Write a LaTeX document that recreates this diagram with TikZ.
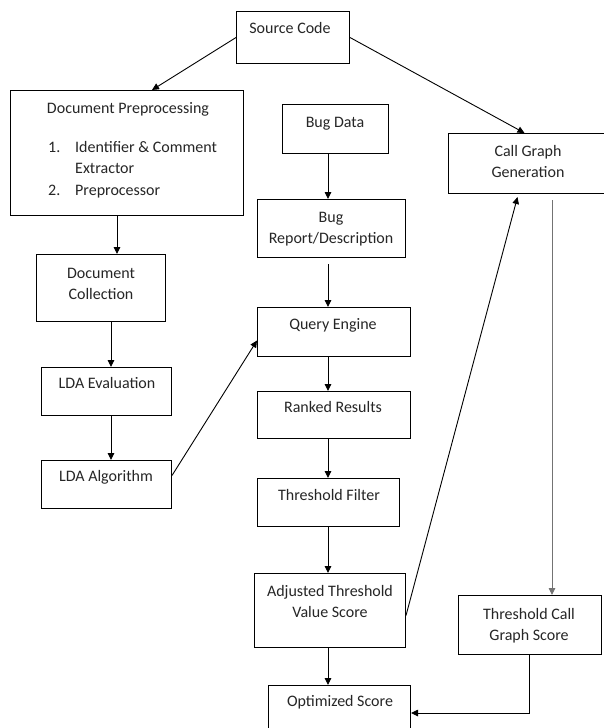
\documentclass[tikz,border=0pt]{standalone}
\usepackage{fontspec}
\setmainfont{Carlito}
\usetikzlibrary{arrows.meta,calc}
\begin{document}
\begin{tikzpicture}[x=1pt,y=-1pt,
  box/.style={draw=black, line width=1pt, inner sep=0pt, fill=white, anchor=north west},
  lbl/.style={font=\fontsize{16}{21}\selectfont, text=black!85, inner sep=0pt, align=center, anchor=base},
  lst/.style={font=\fontsize{16}{21}\selectfont, text=black!85, inner sep=0pt, anchor=base west},
  arr/.style={-{Triangle[length=7pt,width=6.5pt]}, line width=0.9pt, draw=black},
  garr/.style={arr, draw=black!55}]
\useasboundingbox (0,0) rectangle (603,728);
\fill[white] (0,0) rectangle (603,728);

% boxes
\node[box, minimum width=113pt, minimum height=52pt]  (sc) at (236,11)  {};
\node[box, minimum width=233pt, minimum height=125pt] (dp) at (10,90)   {};
\node[box, minimum width=106pt, minimum height=49pt]  (bd) at (282,104) {};
\node[box, minimum width=158pt, minimum height=60pt]  (cg) at (448,133) {};
\node[box, minimum width=148pt, minimum height=58pt]  (br) at (257,199) {};
\node[box, minimum width=129pt, minimum height=67pt]  (dc) at (36,254)  {};
\node[box, minimum width=153pt, minimum height=49pt]  (qe) at (257,307) {};
\node[box, minimum width=130pt, minimum height=48pt]  (le) at (41,367)  {};
\node[box, minimum width=153pt, minimum height=47pt]  (rr) at (257,391) {};
\node[box, minimum width=130pt, minimum height=48pt]  (la) at (41,460)  {};
\node[box, minimum width=142pt, minimum height=48pt]  (tf) at (257,478) {};
\node[box, minimum width=151pt, minimum height=74pt]  (at) at (254,573) {};
\node[box, minimum width=143pt, minimum height=59pt]  (tc) at (458,595) {};
\node[box, minimum width=142pt, minimum height=55pt]  (os) at (268,685) {};

% vertical guide columns for the straight connectors
\coordinate (colL1) at (117,0);
\coordinate (colL2) at (111,0);
\coordinate (colM)  at (328,0);
\coordinate (colR)  at (552,0);

% connectors
\draw[arr] (sc.west) -- ([xshift=25pt]dp.north);
\draw[arr] (sc.east) -- ([xshift=-3pt]cg.north);
\draw[arr] (dp.south -| colL1) -- (dc.north -| colL1);
\draw[arr] (dc.south -| colL2) -- (le.north -| colL2);
\draw[arr] (le.south -| colL2) -- (la.north -| colL2);
\draw[arr] (bd.south -| colM) -- (br.north -| colM);
\draw[arr] ([yshift=-6pt]br.south -| colM) -- (qe.north -| colM);
\draw[arr] (qe.south -| colM) -- (rr.north -| colM);
\draw[arr] (rr.south -| colM) -- (tf.north -| colM);
\draw[arr] (tf.south -| colM) -- (at.north -| colM);
\draw[arr] (at.south -| colM) -- (os.north -| colM);
\draw[arr] ([yshift=9pt]la.east) -- ([yshift=-8.5pt]qe.west);
\draw[arr] ([yshift=-5pt]at.east) -- ([xshift=-10pt,yshift=-3pt]cg.south);
\draw[garr] ([yshift=-6pt]cg.south -| colR) -- (tc.north -| colR);
\draw[arr] ([xshift=-1pt]tc.south) |- (os.east);

% labels (multi-line labels sit on the baseline of their last line)
\node[lbl] (tsc) at (290,33) {Source Code};
\node[lbl] (tdp) at (128,113) {Document Preprocessing};
\node[lst] (n1) at (48,152) {1.};
\node[lst] (i1) at (75,152) {Identifier \& Comment};
\node[lst] (i1b) at (75,173) {Extractor};
\node[lst] (n2) at (48,195) {2.};
\node[lst] (i2) at (75,195) {Preprocessor};
\node[lbl] (tbd) at (335,127) {Bug Data};
\node[lbl] (tcg) at (528,177) {Call Graph\\Generation};
\node[lbl] (tbr) at (331,243) {Bug\\Report/Description};
\node[lbl] (tdc) at (101,299) {Document\\Collection};
\node[lbl] (tle) at (107,388) {LDA Evaluation};
\node[lbl] (tla) at (106,481) {LDA Algorithm};
\node[lbl] (tqe) at (333,329) {Query Engine};
\node[lbl] (trr) at (333,412) {Ranked Results};
\node[lbl] (ttf) at (329,500) {Threshold Filter};
\node[lbl] (tat) at (330,617) {Adjusted Threshold\\Value Score};
\node[lbl] (ttc) at (529,640) {Threshold Call\\Graph Score};
\node[lbl] (tos) at (340,706) {Optimized Score};
\end{tikzpicture}
\end{document}
